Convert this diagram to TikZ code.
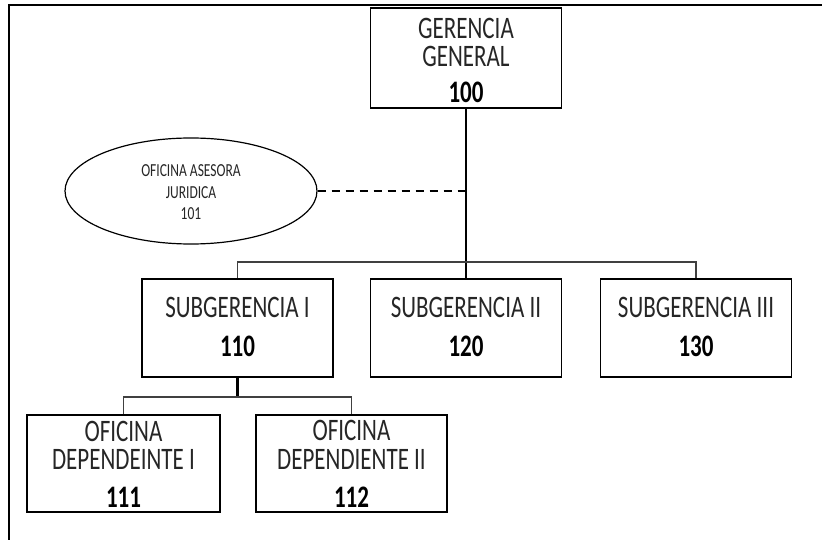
\documentclass[tikz,border=0pt]{standalone}
\usepackage{graphicx}
\usepackage{fontspec}
\setmainfont{Carlito}
\usetikzlibrary{shapes.geometric}

\newcommand{\tallcell}[2]{\scalebox{1}[1.36]{\begin{tabular}{@{}c@{}}#1\\[#2]\end{tabular}}}

\begin{document}
\begin{tikzpicture}[x=1pt,y=-1pt,
    unit/.style={draw,line width=1.2pt,minimum width=191pt,minimum height=98pt,inner sep=0pt,
      align=center,text=black!85,font=\fontsize{23}{19.8}\selectfont},
    adviser/.style={ellipse,draw,line width=1.2pt,minimum width=252pt,minimum height=106pt,inner sep=0pt,
      align=center,text=black!85,font=\fontsize{13.5}{16}\selectfont},
    trunk/.style={line width=2.5pt},
    link/.style={line width=1.3pt,black!75}]
    \useasboundingbox (0,0) rectangle (822,540);
    \draw[line width=2pt] (9,540) -- (9,5) -- (822,5);
            \node (gg) at (466,58) [unit,minimum height=100pt] {\tallcell{GERENCIA\\GENERAL\\[5.5pt]\textbf{\color{black}100}}{-9pt}};
            \node (oaj) at (191,191) [adviser] {\tallcell{OFICINA ASESORA\\JURIDICA\\101}{-4pt}};
            \node (s1) at (237.5,328) [unit] {\tallcell{SUBGERENCIA I\\[8pt]\textbf{\color{black}110}}{-4pt}};
            \node (s2) at (466,328) [unit] {\tallcell{SUBGERENCIA II\\[8pt]\textbf{\color{black}120}}{-4pt}};
            \node (s3) at (696,328) [unit] {\tallcell{SUBGERENCIA III\\[8pt]\textbf{\color{black}130}}{-4pt}};
            \node (o1) at (123.5,463.5) [unit,minimum width=193pt,minimum height=97pt] {\tallcell{OFICINA\\DEPENDEINTE I\\[7.5pt]\textbf{\color{black}111}}{-7pt}};
            \node (o2) at (351.5,463.5) [unit,minimum height=97pt] {\tallcell{OFICINA\\DEPENDIENTE II\\[7.5pt]\textbf{\color{black}112}}{-7pt}};
            \coordinate (bus1) at (466,262);
            \coordinate (bus2) at (237.5,397);
            \draw[trunk] (gg.south) -- (s2.north);
            \draw[link] (s1.north) |- (bus1) -| (s3.north);
            \draw[line width=1.5pt,dash pattern=on 8pt off 6pt] (oaj.east) -- (oaj.east -| gg.south);
            \draw[trunk] (s1.south) -- (bus2);
            \draw[link] (o1.north) |- (bus2) -| (o2.north);
        \end{tikzpicture}
\end{document}
